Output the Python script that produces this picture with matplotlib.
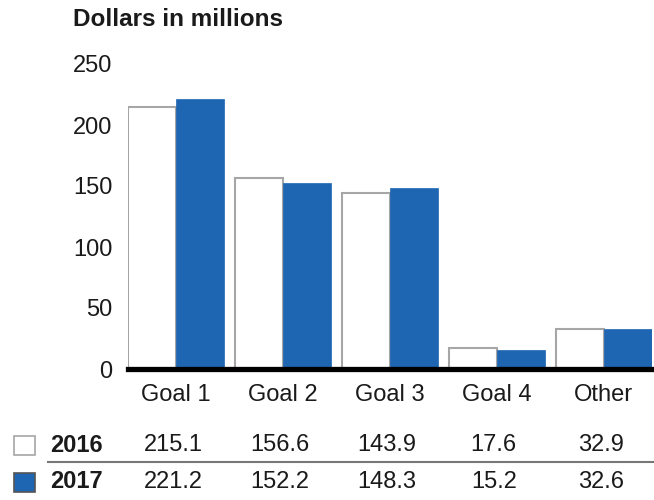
import matplotlib.pyplot as plt
import matplotlib.transforms as mtransforms
import numpy as np

plt.rcParams['font.family'] = ['Liberation Sans', 'DejaVu Sans']

categories = ['Goal 1', 'Goal 2', 'Goal 3', 'Goal 4', 'Other']
years = ['2016', '2017']
values_2016 = [215.1, 156.6, 143.9, 17.6, 32.9]
values_2017 = [221.2, 152.2, 148.3, 15.2, 32.6]
yticks = [0, 50, 100, 150, 200, 250]

blue = '#1f66b2'
edge_gray = '#a6a6a6'
text_color = '#1a1a1a'
fs = 17

W, H = 654, 500
fig = plt.figure(figsize=(W / 100, H / 100), dpi=100)
ax = fig.add_axes([128 / W, 1 - 369 / H, (652 - 128) / W, (369 - 64) / H])

x = np.arange(len(categories))
bw = 0.45
ax.bar(x - bw / 2, values_2016, width=bw, color='white', edgecolor=edge_gray,
       linewidth=1.5, zorder=2)
ax.bar(x + bw / 2, values_2017, width=bw, color=blue, edgecolor=blue,
       linewidth=0.5, zorder=2)

ax.set_xlim(-0.45, len(categories) - 0.55)
ax.set_ylim(0, 250)
ax.set_yticks(yticks)
ax.set_yticklabels([str(v) for v in yticks], fontsize=fs, color=text_color)
ax.set_xticks(x)
ax.set_xticklabels(categories, fontsize=fs, color=text_color)
ax.tick_params(axis='y', length=0, pad=11)
ax.tick_params(axis='x', length=0, pad=11)

for side in ['top', 'right', 'left']:
    ax.spines[side].set_visible(False)
ax.spines['bottom'].set_linewidth(3.8)
ax.spines['bottom'].set_color('black')
ax.spines['bottom'].set_zorder(3)

fig.text(73 / W, 1 - 19 / H, 'Dollars in millions', fontsize=17.5,
         fontweight='bold', color=text_color, va='center', ha='left')

# data table below the chart
trans = mtransforms.blended_transform_factory(ax.transData, fig.transFigure)
rows = [(years[0], values_2016, 'white', edge_gray, 445),
        (years[1], values_2017, blue, '#555555', 482)]
for label, vals, face, edge, ypx in rows:
    yf = 1 - ypx / H
    fig.patches.append(plt.Rectangle((14 / W, yf - 10 / H), 21 / W, 19 / H,
                                     facecolor=face, edgecolor=edge, lw=1.2,
                                     transform=fig.transFigure, figure=fig))
    fig.text(50 / W, yf, label, fontsize=fs, fontweight='bold',
             color=text_color, va='center', ha='left')
    for xi, v in zip(x, vals):
        ax.text(xi - 0.03, yf, f'{v:.1f}', transform=trans, fontsize=fs,
                color=text_color, va='center', ha='center')

fig.add_artist(plt.Line2D([48 / W, 1], [1 - 462 / H] * 2, color='#777777',
                          lw=1.5, transform=fig.transFigure))

fig.savefig('out.png', dpi=100)
